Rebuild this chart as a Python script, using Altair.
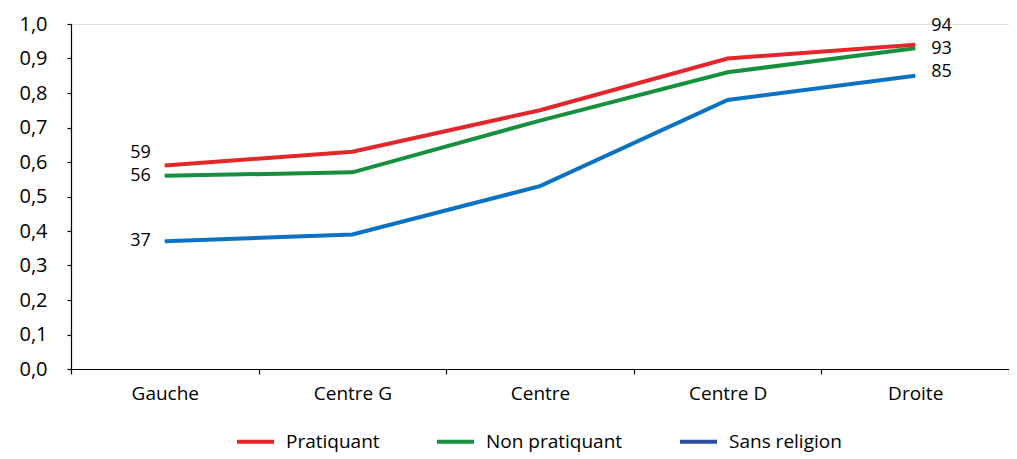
import altair as alt
import pandas as pd

categories = ["Gauche", "Centre G", "Centre", "Centre D", "Droite"]
series_names = ["Pratiquant", "Non pratiquant", "Sans religion"]
pratiquant = [0.59, 0.63, 0.75, 0.90, 0.94]
non_pratiquant = [0.56, 0.57, 0.72, 0.86, 0.93]
sans_religion = [0.37, 0.39, 0.53, 0.78, 0.85]
colors = ["#E3262B", "#17903E", "#0A72C2"]
legend_colors = ["#E3262B", "#17903E", "#2C4E9E"]

rows = []
for name, vals in zip(series_names, [pratiquant, non_pratiquant, sans_religion]):
    for c, v in zip(categories, vals):
        rows.append({"cat": c, "serie": name, "val": v, "lab": str(round(v * 100))})
df = pd.DataFrame(rows)

FONT = "Open Sans"

x = alt.X("cat:N", sort=categories, title=None,
          scale=alt.Scale(paddingInner=0, paddingOuter=0),
          axis=alt.Axis(labelAngle=0, tickBand="extent", labelFontSize=19, labelFont=FONT,
                        labelColor="black", domainColor="black", tickColor="black",
                        tickSize=5, labelPadding=10, domainWidth=1.2, tickWidth=1.2))
y = alt.Y("val:Q", title=None,
          scale=alt.Scale(domain=[0, 1]),
          axis=alt.Axis(values=[i / 10 for i in range(11)], grid=False,
                        labelExpr="replace(format(datum.value, '.1f'), '.', ',')",
                        labelFontSize=20, labelFont=FONT, labelColor="black",
                        domainColor="black", tickColor="black", tickSize=4,
                        labelPadding=20, domainWidth=1.2, tickWidth=1.2))

legend_color = alt.Color("serie:N", sort=series_names,
                         scale=alt.Scale(domain=series_names, range=legend_colors),
                         legend=alt.Legend(title=None, orient="none", direction="horizontal",
                                           legendX=164, legendY=397,
                                           symbolType="stroke", symbolSize=1369,
                                           symbolStrokeWidth=4, symbolOpacity=1,
                                           labelFontSize=19, labelFont=FONT, labelColor="black",
                                           labelOffset=10, columnPadding=49, symbolOffset=0))
line_color = alt.Color("serie:N", sort=series_names,
                       scale=alt.Scale(domain=series_names, range=colors), legend=None)

base = alt.Chart(df)
legend_layer = base.mark_line(strokeWidth=2).encode(x=x, y=y, color=legend_color)
lines = base.mark_line(strokeWidth=4).encode(x=x, y=y, color=line_color)

def lab(cat, serie, dx, dy, align):
    return base.transform_filter(
        (alt.datum.cat == cat) & (alt.datum.serie == serie)
    ).mark_text(align=align, baseline="middle", dx=dx, dy=dy, fontSize=18,
                font=FONT, color="black").encode(x=x, y=y, text="lab:N")

labels = [
    lab("Gauche", "Pratiquant", -14, -12, "right"),
    lab("Gauche", "Non pratiquant", -14, 0, "right"),
    lab("Gauche", "Sans religion", -14, 0, "right"),
    lab("Droite", "Pratiquant", 16, -19, "left"),
    lab("Droite", "Non pratiquant", 16, 1, "left"),
    lab("Droite", "Sans religion", 16, -4, "left"),
]

chart = alt.layer(legend_layer, lines, *labels).resolve_scale(color="independent").properties(
    width=938, height=345,
    autosize=alt.AutoSizeParams(type="none"),
    padding={"left": 63, "top": 16, "right": 0, "bottom": 90},
).configure_view(stroke=None).configure(font=FONT)

chart.save("out.html", embed_options={"renderer": "svg", "actions": False})
